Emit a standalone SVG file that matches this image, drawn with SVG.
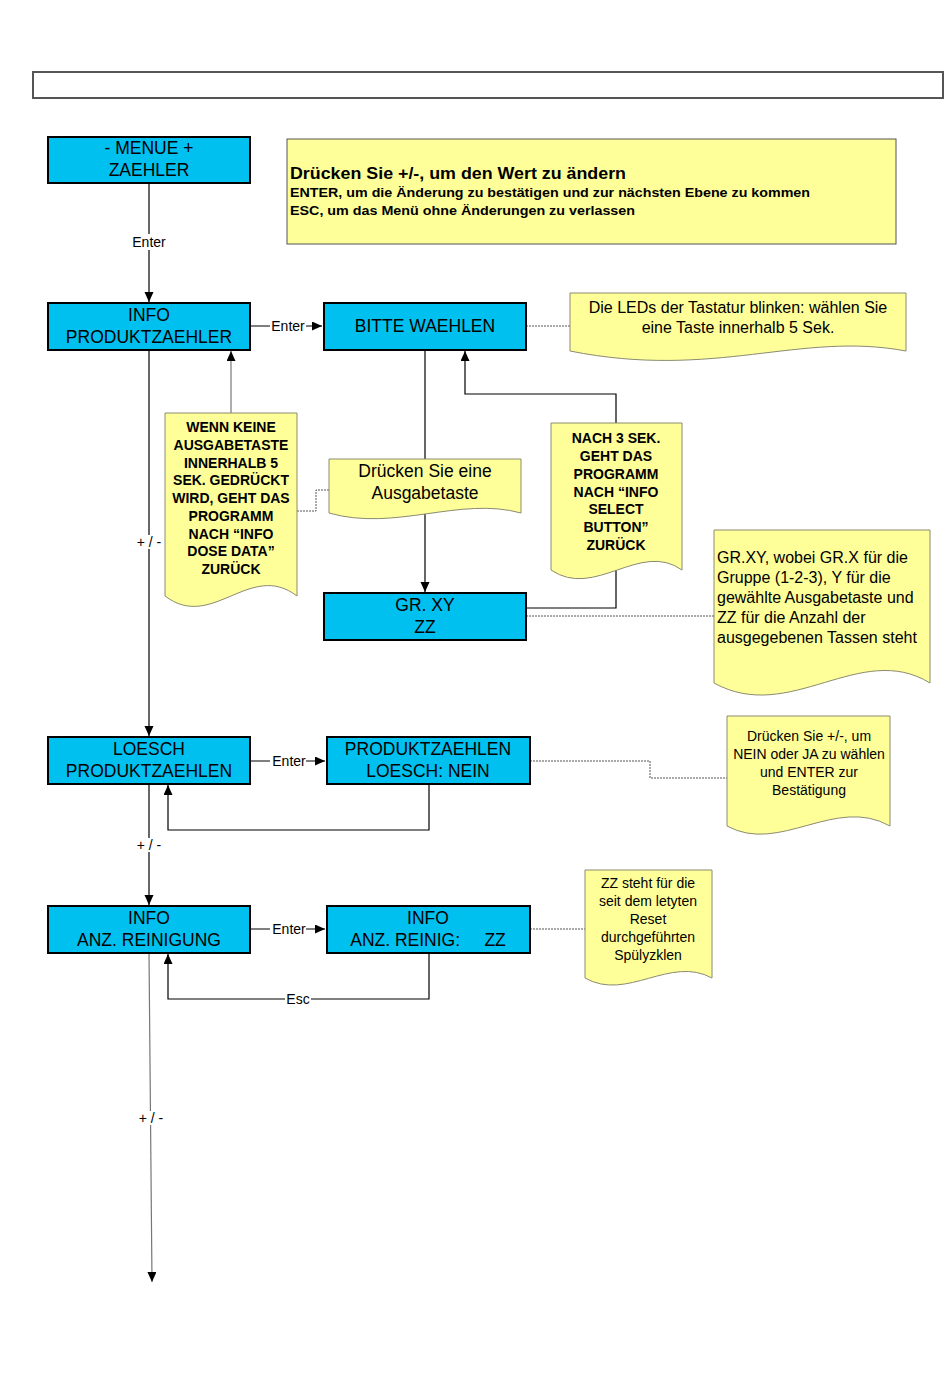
<svg xmlns="http://www.w3.org/2000/svg" width="950" height="1398" viewBox="0 0 950 1398">
<style>
text{font-family:"Liberation Sans",Arial,sans-serif;fill:#000}
.box{fill:#00C0F0;stroke:#000;stroke-width:2}
.note{fill:#FFFF99;stroke:#8a8a70;stroke-width:1}
.bt{font-size:17.5px;text-anchor:middle}
.nb{font-size:14px;font-weight:bold;text-anchor:middle}
.nt{font-size:14px;text-anchor:middle}
.ln{fill:none;stroke:#000;stroke-width:1.2}
.lg{fill:none;stroke:#777;stroke-width:1.2}
.ds{fill:none;stroke:#555;stroke-width:1;stroke-dasharray:2,1}
.lb{font-size:14px;text-anchor:middle}
.bg{fill:#fff}
</style>
<defs>
<marker id="ah" markerUnits="userSpaceOnUse" markerWidth="11" markerHeight="10" refX="10" refY="4.5" orient="auto">
<path d="M0,0 L10,4.5 L0,9 z" fill="#000"/>
</marker>
</defs>
<rect x="0" y="0" width="950" height="1398" fill="#fff"/>
<g id="header"><rect x="33" y="72" width="910" height="26" fill="#fff" stroke="#555" stroke-width="2"/></g>

<g id="connectors">
<path class="ln" d="M149,183 V302" marker-end="url(#ah)"/>
<rect class="bg" x="130" y="234" width="38" height="16"/><text class="lb" x="149" y="247">Enter</text>
<path class="ln" d="M250,326 H322" marker-end="url(#ah)"/>
<rect class="bg" x="270" y="318" width="36" height="16"/><text class="lb" x="288" y="331">Enter</text>
<path class="ds" d="M526,326 H570"/>
<path class="ln" d="M425,350 V592" marker-end="url(#ah)"/>
<path class="ln" d="M526,608 H616 V394 H465 V351" marker-end="url(#ah)"/>
<path class="ds" d="M526,616 H714"/>
<path class="lg" d="M231,413 V351" marker-end="url(#ah)"/>
<path class="ds" d="M297,511 H316 V490 H329"/>
<path class="ln" d="M149,350 V736" marker-end="url(#ah)"/>
<rect class="bg" x="134" y="535" width="30" height="14"/><text class="lb" x="149" y="547">+ / -</text>
<path class="ln" d="M250,761 H325" marker-end="url(#ah)"/>
<rect class="bg" x="270" y="753" width="36" height="16"/><text class="lb" x="289" y="766">Enter</text>
<path class="ln" d="M429,784 V830 H168 V785" marker-end="url(#ah)"/>
<path class="ds" d="M530,761 H650 V778 H727"/>
<path class="ln" d="M149,784 V905" marker-end="url(#ah)"/>
<rect class="bg" x="134" y="838" width="30" height="14"/><text class="lb" x="149" y="850">+ / -</text>
<path class="ln" d="M250,929 H325" marker-end="url(#ah)"/>
<rect class="bg" x="270" y="921" width="36" height="16"/><text class="lb" x="289" y="934">Enter</text>
<path class="ln" d="M429,953 V999 H168 V954" marker-end="url(#ah)"/>
<rect class="bg" x="285" y="991" width="26" height="16"/><text class="lb" x="298" y="1004">Esc</text>
<path class="ds" d="M530,929 H585"/>
<path class="lg" d="M149,953 L152,1282" marker-end="url(#ah)"/>
<rect class="bg" x="136" y="1111" width="30" height="14"/><text class="lb" x="151" y="1123">+ / -</text>
</g>

<g id="menue"><rect class="box" x="48" y="137" width="202" height="46"/>
<text class="bt" x="149" y="154">- MENUE +</text><text class="bt" x="149" y="176">ZAEHLER</text></g>

<g id="hint"><rect x="287" y="139" width="609" height="105" fill="#FFFF99" stroke="#555" stroke-width="1"/>
<text x="290" y="179" font-size="17" font-weight="bold" textLength="336" lengthAdjust="spacingAndGlyphs">Drücken Sie +/-, um den Wert zu ändern</text>
<text x="290" y="197" font-size="13.5" font-weight="bold" textLength="520" lengthAdjust="spacingAndGlyphs">ENTER, um die Änderung zu bestätigen und zur nächsten Ebene zu kommen</text>
<text x="290" y="215" font-size="13.5" font-weight="bold" textLength="345" lengthAdjust="spacingAndGlyphs">ESC, um das Menü ohne Änderungen zu verlassen</text></g>

<g id="info-prod"><rect class="box" x="48" y="303" width="202" height="47"/>
<text class="bt" x="149" y="321">INFO</text><text class="bt" x="149" y="343">PRODUKTZAEHLER</text></g>

<g id="bitte"><rect class="box" x="324" y="303" width="202" height="47"/>
<text class="bt" x="425" y="332">BITTE WAEHLEN</text></g>

<g id="note-leds"><path class="note" d="M570,293 H906 V351 C800,331 715,380 570,351 Z"/>
<text x="738" y="313" font-size="16" text-anchor="middle">Die LEDs der Tastatur blinken: wählen Sie</text>
<text x="738" y="333" font-size="16" text-anchor="middle">eine Taste innerhalb 5 Sek.</text></g>

<g id="note-wenn"><path class="note" d="M165,413 H297 V596 C250,560 212,632 165,596 Z"/>
<text class="nb" x="231" y="432">WENN KEINE</text>
<text class="nb" x="231" y="450">AUSGABETASTE</text>
<text class="nb" x="231" y="468">INNERHALB 5</text>
<text class="nb" x="231" y="485">SEK. GEDRÜCKT</text>
<text class="nb" x="231" y="503">WIRD, GEHT DAS</text>
<text class="nb" x="231" y="521">PROGRAMM</text>
<text class="nb" x="231" y="539">NACH “INFO</text>
<text class="nb" x="231" y="556">DOSE DATA”</text>
<text class="nb" x="231" y="574">ZURÜCK</text></g>

<g id="note-druecken"><path class="note" d="M329,459 H521 V513 C460,496 395,532 329,513 Z"/>
<text x="425" y="477" font-size="17.5" text-anchor="middle">Drücken Sie eine</text>
<text x="425" y="499" font-size="17.5" text-anchor="middle">Ausgabetaste</text></g>

<g id="note-nach"><path class="note" d="M551,423 H682 V570 C640,540 595,600 551,570 Z"/>
<text class="nb" x="616" y="443">NACH 3 SEK.</text>
<text class="nb" x="616" y="461">GEHT DAS</text>
<text class="nb" x="616" y="479">PROGRAMM</text>
<text class="nb" x="616" y="497">NACH “INFO</text>
<text class="nb" x="616" y="514">SELECT</text>
<text class="nb" x="616" y="532">BUTTON”</text>
<text class="nb" x="616" y="550">ZURÜCK</text></g>

<g id="grxy"><rect class="box" x="324" y="593" width="202" height="47"/>
<text class="bt" x="425" y="611">GR. XY</text><text class="bt" x="425" y="633">ZZ</text></g>

<g id="note-grxy"><path class="note" d="M714,530 H930 V683 C860,640 790,725 714,683 Z"/>
<text x="717" y="563" font-size="16">GR.XY, wobei GR.X für die</text>
<text x="717" y="583" font-size="16">Gruppe (1-2-3), Y für die</text>
<text x="717" y="603" font-size="16">gewählte Ausgabetaste und</text>
<text x="717" y="623" font-size="16">ZZ für die Anzahl der</text>
<text x="717" y="643" font-size="16">ausgegebenen Tassen steht</text></g>

<g id="loesch"><rect class="box" x="48" y="737" width="202" height="47"/>
<text class="bt" x="149" y="755">LOESCH</text><text class="bt" x="149" y="777">PRODUKTZAEHLEN</text></g>

<g id="prod-loesch"><rect class="box" x="327" y="737" width="203" height="47"/>
<text class="bt" x="428" y="755">PRODUKTZAEHLEN</text><text class="bt" x="428" y="777">LOESCH: NEIN</text></g>

<g id="note-nein"><path class="note" d="M727,716 H890 V826 C835,795 780,855 727,826 Z"/>
<text class="nt" x="809" y="741">Drücken Sie +/-, um</text>
<text class="nt" x="809" y="759">NEIN oder JA zu wählen</text>
<text class="nt" x="809" y="777">und ENTER zur</text>
<text class="nt" x="809" y="795">Bestätigung</text></g>

<g id="info-anz"><rect class="box" x="48" y="906" width="202" height="47"/>
<text class="bt" x="149" y="924">INFO</text><text class="bt" x="149" y="946">ANZ. REINIGUNG</text></g>

<g id="info-anz-zz"><rect class="box" x="327" y="906" width="203" height="47"/>
<text class="bt" x="428" y="924">INFO</text><text class="bt" x="428" y="946" xml:space="preserve">ANZ. REINIG:     ZZ</text></g>

<g id="note-zz"><path class="note" d="M585,870 H712 V978 C670,955 627,1002 585,978 Z"/>
<text class="nt" x="648" y="888">ZZ steht für die</text>
<text class="nt" x="648" y="906">seit dem letyten</text>
<text class="nt" x="648" y="924">Reset</text>
<text class="nt" x="648" y="942">durchgeführten</text>
<text class="nt" x="648" y="960">Spülyzklen</text></g>
</svg>
